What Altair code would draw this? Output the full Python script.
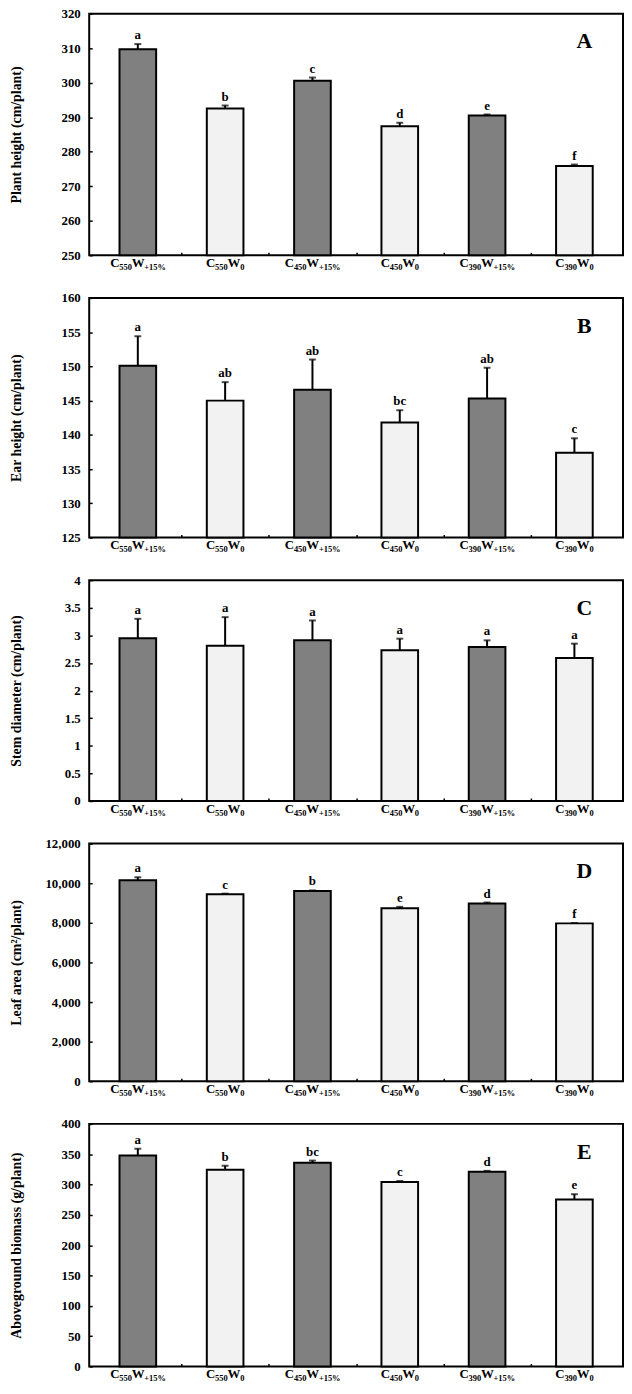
import pandas as pd
import altair as alt

FONT = "Liberation Serif"

# treatments (x axis)
co2_sub = ["550", "550", "450", "450", "390", "390"]
water_sub = ["+15%", "0", "+15%", "0", "+15%", "0"]
shade = ["dark", "light", "dark", "light", "dark", "light"]

# A - plant height
height_mean = [309.7, 292.5, 300.6, 287.4, 290.5, 275.9]
height_err = [1.5, 0.9, 0.9, 1.0, 0.3, 0.4]
height_sig = ["a", "b", "c", "d", "e", "f"]
height_ticks = [250, 260, 270, 280, 290, 300, 310, 320]

# B - ear height
ear_mean = [150.1, 145.0, 146.6, 141.8, 145.3, 137.4]
ear_err = [4.3, 2.7, 4.4, 1.8, 4.5, 2.1]
ear_sig = ["a", "ab", "ab", "bc", "ab", "c"]
ear_ticks = [125, 130, 135, 140, 145, 150, 155, 160]

# C - stem diameter
stem_mean = [2.95, 2.81, 2.91, 2.73, 2.79, 2.59]
stem_err = [0.35, 0.52, 0.36, 0.21, 0.12, 0.26]
stem_sig = ["a", "a", "a", "a", "a", "a"]
stem_ticks = [0, 0.5, 1, 1.5, 2, 2.5, 3, 3.5, 4]

# D - leaf area
leaf_mean = [10145, 9443, 9610, 8741, 8975, 7972]
leaf_err = [155, 30, 25, 65, 50, 20]
leaf_sig = ["a", "c", "b", "e", "d", "f"]
leaf_ticks = [0, 2000, 4000, 6000, 8000, 10000, 12000]

# E - aboveground biomass
bio_mean = [348, 324.5, 336, 304, 321, 275.5]
bio_err = [11, 6.5, 3.5, 1.8, 1.5, 8.5]
bio_sig = ["a", "b", "bc", "c", "d", "e"]
bio_ticks = [0, 50, 100, 150, 200, 250, 300, 350, 400]

W = 539
MAIN, SUB = 13, 8.5
adv = {"C": 0.722, "W": 1.0, "+": 0.570, "%": 1.0}


def text_w(s, size):
    return sum(adv.get(ch, 0.5) for ch in s) * size


# x labels with subscripts, built piece by piece
rows = []
for i in range(len(co2_sub)):
    parts = [("C", 0), (co2_sub[i], 1), ("W", 0), (water_sub[i], 1)]
    total = sum(text_w(p, SUB if s else MAIN) for p, s in parts)
    left = -total / 2
    for p, s in parts:
        rows.append({"x": i + 0.5 + left * 6 / W, "txt": p, "sub": s})
        left += text_w(p, SUB if s else MAIN)
labels = pd.DataFrame(rows)

xscale = alt.Scale(domain=[0, 6], nice=False, zero=False)
xaxis = alt.Axis(values=[1, 2, 3, 4, 5], labels=False, ticks=True, tickSize=3,
                 offset=-3, domain=False, grid=False, title=None)


def panel(title, mean, err, sig, ticks, fmt, letter, h):
    df = pd.DataFrame({
        "x": [i + 0.5 for i in range(len(mean))],
        "mean": mean,
        "upper": [m + e for m, e in zip(mean, err)],
        "sig": sig,
        "shade": shade,
    })
    yscale = alt.Scale(domain=[ticks[0], ticks[-1]], nice=False, zero=False)
    yaxis = alt.Axis(title=title, values=ticks, format=fmt, offset=-3, tickSize=3,
                     domain=False, grid=False, labelPadding=9,
                     titleX=-76, titleY=h / 2, titleAlign="center", titleBaseline="middle")
    X = alt.X("x:Q", scale=xscale, axis=xaxis)

    bars = alt.Chart(df).mark_bar(size=37, stroke="black", strokeWidth=2).encode(
        x=X,
        y=alt.Y("mean:Q", scale=yscale, axis=yaxis),
        y2=alt.datum(ticks[0]),
        color=alt.Color("shade:N", scale=alt.Scale(domain=["dark", "light"],
                                                   range=["#808080", "#f2f2f2"]), legend=None),
    )
    err_line = alt.Chart(df).mark_rule(color="black", strokeWidth=2).encode(
        x=X, y=alt.Y("mean:Q", scale=yscale, axis=yaxis), y2="upper:Q"
    )
    cap = alt.Chart(df).mark_tick(orient="horizontal", size=7, thickness=2, color="black").encode(
        x=X, y=alt.Y("upper:Q", scale=yscale, axis=yaxis)
    )
    sig_txt = alt.Chart(df).mark_text(dy=-5, baseline="alphabetic", font=FONT, fontSize=13,
                                      fontWeight="bold", color="black").encode(
        x=X, y=alt.Y("upper:Q", scale=yscale, axis=yaxis), text="sig:N"
    )
    lab_main = alt.Chart(labels).transform_filter("datum.sub == 0").mark_text(
        align="left", baseline="alphabetic", font=FONT, fontSize=MAIN, fontWeight="bold", color="black"
    ).encode(x=X, y=alt.value(h + 12), text="txt:N")
    lab_sub = alt.Chart(labels).transform_filter("datum.sub == 1").mark_text(
        align="left", baseline="alphabetic", font=FONT, fontSize=SUB, fontWeight="bold", color="black"
    ).encode(x=X, y=alt.value(h + 15), text="txt:N")
    tag = alt.Chart(pd.DataFrame({"t": [letter]})).mark_text(
        align="center", baseline="alphabetic", font=FONT, fontSize=22, fontWeight="bold", color="black"
    ).encode(x=alt.value(W - 39), y=alt.value(35), text="t:N")

    return alt.layer(bars, err_line, cap, sig_txt, lab_main, lab_sub, tag).properties(width=W, height=h)


chart = alt.vconcat(
    panel("Plant height (cm/plant)", height_mean, height_err, height_sig, height_ticks, "d", "A", 244),
    panel("Ear height (cm/plant)", ear_mean, ear_err, ear_sig, ear_ticks, "d", "B", 242),
    panel("Stem diameter (cm/plant)", stem_mean, stem_err, stem_sig, stem_ticks, "~g", "C", 223),
    panel("Leaf area (cm²/plant)", leaf_mean, leaf_err, leaf_sig, leaf_ticks, ",d", "D", 240),
    panel("Aboveground biomass (g/plant)", bio_mean, bio_err, bio_sig, bio_ticks, "d", "E", 245),
    spacing=43,
    bounds="flush",
).properties(
    padding={"left": 0, "top": -8, "right": 0, "bottom": 0},
    background="white",
).configure_view(
    stroke="black", strokeWidth=2
).configure_axis(
    labelFont=FONT, labelFontSize=13, labelFontWeight="bold", labelColor="black",
    titleFont=FONT, titleFontSize=14, titleFontWeight="bold", titleColor="black",
    tickColor="black", tickWidth=1.5
)

chart.save("out.html", embed_options={"renderer": "svg", "actions": False})
